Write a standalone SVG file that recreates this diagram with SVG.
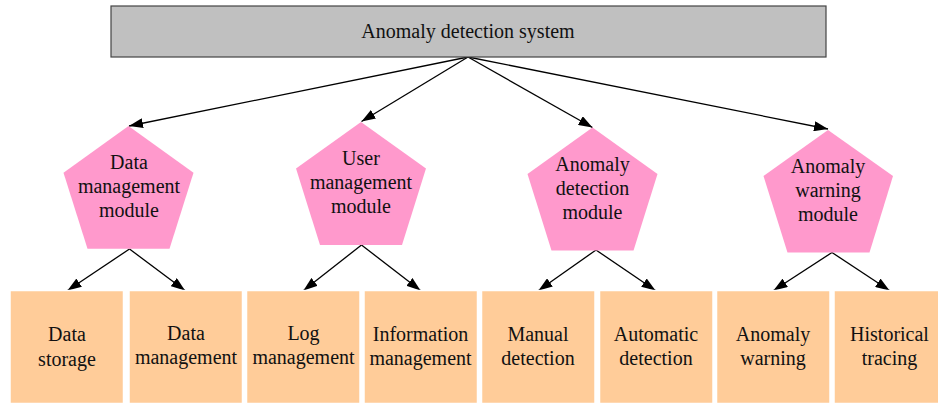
<svg xmlns="http://www.w3.org/2000/svg" width="938" height="405" viewBox="0 0 938 405">
  <defs>
    <marker id="arrow" markerUnits="userSpaceOnUse" markerWidth="14" markerHeight="10" refX="14" refY="5" orient="auto">
      <path d="M0,0 L14,5 L0,10 z" fill="#000"/>
    </marker>
    <style>
      text { font-family: "Liberation Serif", "Times New Roman", serif; font-size: 20px; fill: #111; text-anchor: middle; }
      .root { fill: #c0c0c0; stroke: #444; stroke-width: 1.2; }
      .module { fill: #ff99cc; stroke: none; }
      .leaf { fill: #ffcc99; stroke: #fff; stroke-width: 1.5; }
      .edge { stroke: #000; stroke-width: 1.3; fill: none; marker-end: url(#arrow); }
    </style>
  </defs>
  <rect width="938" height="405" fill="#fff"/>

  <!-- connectors -->
  <g id="connectors">
    <line class="edge" x1="468" y1="57" x2="129" y2="126"/>
    <line class="edge" x1="468" y1="57" x2="361.5" y2="121.5"/>
    <line class="edge" x1="468" y1="57" x2="592.5" y2="127.5"/>
    <line class="edge" x1="468" y1="57" x2="828" y2="129"/>

    <line class="edge" x1="129.5" y1="249" x2="67.5" y2="290.5"/>
    <line class="edge" x1="129.5" y1="249" x2="185" y2="290.5"/>
    <line class="edge" x1="361.5" y1="245" x2="303.5" y2="290.5"/>
    <line class="edge" x1="361.5" y1="245" x2="420.5" y2="290.5"/>
    <line class="edge" x1="596" y1="250" x2="538.5" y2="290.5"/>
    <line class="edge" x1="596" y1="250" x2="655.5" y2="290.5"/>
    <line class="edge" x1="832" y1="252.5" x2="773.5" y2="290.5"/>
    <line class="edge" x1="832" y1="252.5" x2="889.5" y2="290.5"/>
  </g>

  <!-- root -->
  <g id="root">
    <rect class="root" x="111" y="6" width="715" height="51"/>
    <text x="468" y="38">Anomaly detection system</text>
  </g>

  <!-- modules -->
  <g id="module-data">
    <polygon class="module" points="128.5,126 193.5,172.7 169.5,248.7 87.5,248.7 63.5,172.7"/>
    <text x="129" y="169">Data</text>
    <text x="129" y="193">management</text>
    <text x="129" y="217">module</text>
  </g>
  <g id="module-user">
    <polygon class="module" points="361,122 426,168.5 402,245 320,245 296,168.5"/>
    <text x="361" y="165">User</text>
    <text x="361" y="189">management</text>
    <text x="361" y="213">module</text>
  </g>
  <g id="module-detection">
    <polygon class="module" points="592.5,127.5 657.5,174 633.5,250.5 551.5,250.5 527.5,174"/>
    <text x="592.5" y="171">Anomaly</text>
    <text x="592.5" y="195">detection</text>
    <text x="592.5" y="219">module</text>
  </g>
  <g id="module-warning">
    <polygon class="module" points="828,130 893,176 869.5,252.5 787.5,252.5 763.5,176"/>
    <text x="828" y="173">Anomaly</text>
    <text x="828" y="197">warning</text>
    <text x="828" y="221">module</text>
  </g>

  <!-- leaf functions -->
  <g id="leaf-data-storage">
    <rect class="leaf" x="10" y="290.5" width="113.5" height="113"/>
    <text x="67" y="341">Data</text>
    <text x="67" y="366">storage</text>
  </g>
  <g id="leaf-data-management">
    <rect class="leaf" x="129" y="290.5" width="113.5" height="113"/>
    <text x="186" y="340">Data</text>
    <text x="186" y="364">management</text>
  </g>
  <g id="leaf-log-management">
    <rect class="leaf" x="246.5" y="290.5" width="113.5" height="113"/>
    <text x="303.5" y="340">Log</text>
    <text x="303.5" y="364">management</text>
  </g>
  <g id="leaf-information-management">
    <rect class="leaf" x="364" y="290.5" width="113.5" height="113"/>
    <text x="420.5" y="341">Information</text>
    <text x="420.5" y="365">management</text>
  </g>
  <g id="leaf-manual-detection">
    <rect class="leaf" x="481.5" y="290.5" width="113.5" height="113"/>
    <text x="538" y="341">Manual</text>
    <text x="538" y="365">detection</text>
  </g>
  <g id="leaf-automatic-detection">
    <rect class="leaf" x="599.5" y="290.5" width="113.5" height="113"/>
    <text x="656" y="341">Automatic</text>
    <text x="656" y="365">detection</text>
  </g>
  <g id="leaf-anomaly-warning">
    <rect class="leaf" x="716.5" y="290.5" width="113.5" height="113"/>
    <text x="773" y="341">Anomaly</text>
    <text x="773" y="365">warning</text>
  </g>
  <g id="leaf-historical-tracing">
    <rect class="leaf" x="834" y="290.5" width="113.5" height="113"/>
    <text x="889.5" y="341">Historical</text>
    <text x="889.5" y="365">tracing</text>
  </g>
</svg>
